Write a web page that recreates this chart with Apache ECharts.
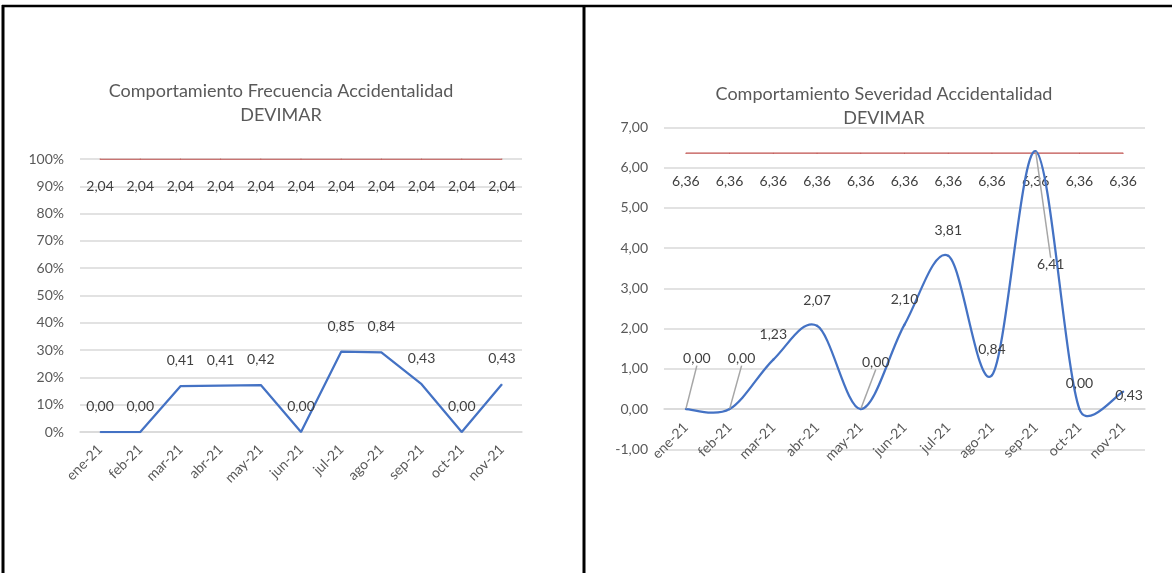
<!DOCTYPE html>
<html>
<head>
<meta charset="utf-8">
<script src="https://cdn.jsdelivr.net/npm/echarts@6/dist/echarts.min.js"></script>
<style>
  html, body { margin: 0; padding: 0; background: #fff; }
  #chart { width: 1172px; height: 573px; }
</style>
</head>
<body>
<div id="chart"></div>
<script>
// ---------- DATA ----------
const months = ['ene-21','feb-21','mar-21','abr-21','may-21','jun-21','jul-21','ago-21','sep-21','oct-21','nov-21'];

// Left chart (Frecuencia): plotted position on the % axis, and the printed labels
const freqPlotted = [0, 0, 16.8, 17.0, 17.2, 0, 29.4, 29.2, 17.5, 0, 17.5];
const freqLabels  = ['0,00','0,00','0,41','0,41','0,42','0,00','0,85','0,84','0,43','0,00','0,43'];
const freqTargetPlotted = [100,100,100,100,100,100,100,100,100,100,100];
const freqTargetLabels  = ['2,04','2,04','2,04','2,04','2,04','2,04','2,04','2,04','2,04','2,04','2,04'];
const freqTicks = [0, 10, 20, 30, 40, 50, 60, 70, 80, 90, 100];

// Right chart (Severidad)
const sevValues = [0, 0, 1.23, 2.07, 0, 2.10, 3.81, 0.84, 6.41, 0, 0.43];
const sevTarget = [6.36, 6.36, 6.36, 6.36, 6.36, 6.36, 6.36, 6.36, 6.36, 6.36, 6.36];
const sevTicks = [-1, 0, 1, 2, 3, 4, 5, 6, 7];

// ---------- STYLE ----------
const FONT = 'Lato';
const BLUE = '#4472C4';
const RED = '#C0504D';
const GRID = '#d9d9d9';
const AXIS_TXT = '#595959';
const LBL_TXT = '#404040';
const fmt2 = v => v.toFixed(2).replace('.', ',');

// label displacement (px) for right-chart labels that sit away from their points
const sevLabelMoves = { 0: [11, -25], 1: [12, -25], 4: [15, -21], 8: [15, 139], 10: [6, 29] };
const sevLeaderIdx = { 0: true, 1: true, 4: true, 8: true };

// Excel-like smoothed segment (Bezier) between point i and i+1, in pixel space
function excelSegment(P, i) {
  const p1 = P[i], p2 = P[i + 1];
  const p0 = i > 0 ? P[i - 1] : p1;
  const p3 = i + 2 < P.length ? P[i + 2] : p2;
  const d = (a, b) => Math.hypot(a[0] - b[0], a[1] - b[1]);
  const d12 = d(p1, p2), d02 = d(p0, p2), d13 = d(p1, p3);
  let f0 = 1 / 6, f3 = 1 / 6;
  if (d02 > 0 && d02 / 6 >= d12 / 2) f0 = (d12 / 2) / d02;
  if (d13 > 0 && d13 / 6 >= d12 / 2) f3 = (d12 / 2) / d13;
  return {
    x1: p1[0], y1: p1[1], x2: p2[0], y2: p2[1],
    cpx1: p1[0] + (p2[0] - p0[0]) * f0, cpy1: p1[1] + (p2[1] - p0[1]) * f0,
    cpx2: p2[0] - (p3[0] - p1[0]) * f3, cpy2: p2[1] - (p3[1] - p1[1]) * f3
  };
}

const chart = echarts.init(document.getElementById('chart'), null, { renderer: 'canvas' });

function catAxis(gridIndex, margin, extra) {
  return Object.assign({
    type: 'category',
    gridIndex: gridIndex,
    data: months,
    boundaryGap: true,
    axisTick: { show: false },
    axisLine: { show: true, onZero: false, lineStyle: { color: GRID, width: 1.5 } },
    axisLabel: { rotate: 45, interval: 0, color: AXIS_TXT, fontFamily: FONT, fontSize: 14, margin: margin },
    splitLine: { show: false }
  }, extra || {});
}

const rightGridH = 321.8;
const rightUnitPx = rightGridH / (sevTicks[sevTicks.length - 1] - sevTicks[0]);

const option = {
  animation: false,
  backgroundColor: '#fff',
  title: [
    {
      text: 'Comportamiento Frecuencia Accidentalidad\nDEVIMAR',
      left: 281, top: 79, textAlign: 'center', padding: 0,
      textStyle: { fontFamily: FONT, fontSize: 18, fontWeight: 'normal', color: AXIS_TXT, lineHeight: 24 }
    },
    {
      text: 'Comportamiento Severidad Accidentalidad\nDEVIMAR',
      left: 884, top: 82, textAlign: 'center', padding: 0,
      textStyle: { fontFamily: FONT, fontSize: 18, fontWeight: 'normal', color: AXIS_TXT, lineHeight: 24 }
    }
  ],
  grid: [
    { left: 80, top: 159, width: 442, height: 273, containLabel: false },
    { left: 664, top: 127.5, width: 481, height: rightGridH, containLabel: false }
  ],
  xAxis: [
    catAxis(0, 15),
    // category axis crosses the value axis at 0 (one unit above the bottom -1,00 line)
    catAxis(1, 16, { offset: -(0 - sevTicks[0]) * rightUnitPx })
  ],
  yAxis: [
    {
      type: 'value', gridIndex: 0,
      min: freqTicks[0], max: freqTicks[freqTicks.length - 1], interval: freqTicks[1] - freqTicks[0],
      axisLine: { show: false }, axisTick: { show: false },
      axisLabel: { formatter: v => v + '%', color: AXIS_TXT, fontFamily: FONT, fontSize: 14, margin: 16 },
      splitLine: { lineStyle: { color: GRID, width: 1.5 } }
    },
    {
      type: 'value', gridIndex: 1,
      min: sevTicks[0], max: sevTicks[sevTicks.length - 1], interval: sevTicks[1] - sevTicks[0],
      axisLine: { show: false }, axisTick: { show: false },
      axisLabel: { formatter: v => fmt2(v), color: AXIS_TXT, fontFamily: FONT, fontSize: 14, margin: 16 },
      splitLine: { lineStyle: { color: GRID, width: 1.5 } }
    }
  ],
  series: [
    {
      type: 'line', xAxisIndex: 0, yAxisIndex: 0,
      data: freqTargetPlotted,
      symbol: 'circle', symbolSize: 1, showSymbol: true,
      itemStyle: { color: RED },
      lineStyle: { color: RED, width: 1.25 },
      label: { show: true, position: 'bottom', distance: 20, color: LBL_TXT, fontFamily: FONT, fontSize: 14,
               formatter: p => freqTargetLabels[p.dataIndex] },
      emphasis: { disabled: true }, z: 3
    },
    {
      type: 'line', xAxisIndex: 0, yAxisIndex: 0,
      data: freqPlotted,
      symbol: 'circle', symbolSize: 1, showSymbol: true,
      itemStyle: { color: BLUE },
      lineStyle: { color: BLUE, width: 2.25 },
      label: { show: true, position: 'top', distance: 18, color: LBL_TXT, fontFamily: FONT, fontSize: 14,
               formatter: p => freqLabels[p.dataIndex] },
      emphasis: { disabled: true }, z: 4
    },
    {
      type: 'line', xAxisIndex: 1, yAxisIndex: 1,
      data: sevTarget,
      symbol: 'circle', symbolSize: 1, showSymbol: true,
      itemStyle: { color: RED },
      lineStyle: { color: RED, width: 1.25 },
      label: { show: true, position: 'bottom', distance: 21, color: LBL_TXT, fontFamily: FONT, fontSize: 14,
               formatter: p => fmt2(p.value) },
      emphasis: { disabled: true }, z: 3
    },
    // smoothed curve (Excel-style) drawn through the axis scales
    {
      type: 'custom', xAxisIndex: 1, yAxisIndex: 1,
      data: sevValues.map((v, i) => [i, v]),
      encode: { x: 0, y: 1 },
      clip: false,
      silent: true,
      z: 4,
      renderItem: function (params, api) {
        const i = params.dataIndex;
        if (i >= sevValues.length - 1) return null;
        const P = sevValues.map((v, j) => api.coord([j, v]));
        return {
          type: 'bezierCurve',
          shape: excelSegment(P, i),
          style: { stroke: BLUE, lineWidth: 2.25, fill: null, lineCap: 'round' }
        };
      }
    },
    // value labels (with leader lines) for the curve
    {
      type: 'line', xAxisIndex: 1, yAxisIndex: 1,
      data: sevValues.map((v, i) => ({
        value: v,
        labelLine: { show: !!sevLeaderIdx[i], length2: 0, lineStyle: { color: '#a6a6a6', width: 1.5 } }
      })),
      symbol: 'circle', symbolSize: 1, showSymbol: true,
      itemStyle: { color: BLUE },
      lineStyle: { opacity: 0 },
      label: { show: true, position: 'top', distance: 18, color: LBL_TXT, fontFamily: FONT, fontSize: 14,
               formatter: p => fmt2(p.value) },
      labelLayout: p => {
        const m = sevLabelMoves[p.dataIndex];
        return m ? { dx: m[0], dy: m[1] } : {};
      },
      emphasis: { disabled: true }, z: 5
    }
  ],
  graphic: [
    { type: 'line', shape: { x1: 3, y1: 5, x2: 3, y2: 573 }, style: { stroke: '#000', lineWidth: 3 } },
    { type: 'line', shape: { x1: 2, y1: 6, x2: 1172, y2: 6 }, style: { stroke: '#000', lineWidth: 2.5 } },
    { type: 'line', shape: { x1: 584, y1: 5, x2: 584, y2: 573 }, style: { stroke: '#000', lineWidth: 3 } }
  ]
};

chart.setOption(option);
</script>
</body>
</html>
